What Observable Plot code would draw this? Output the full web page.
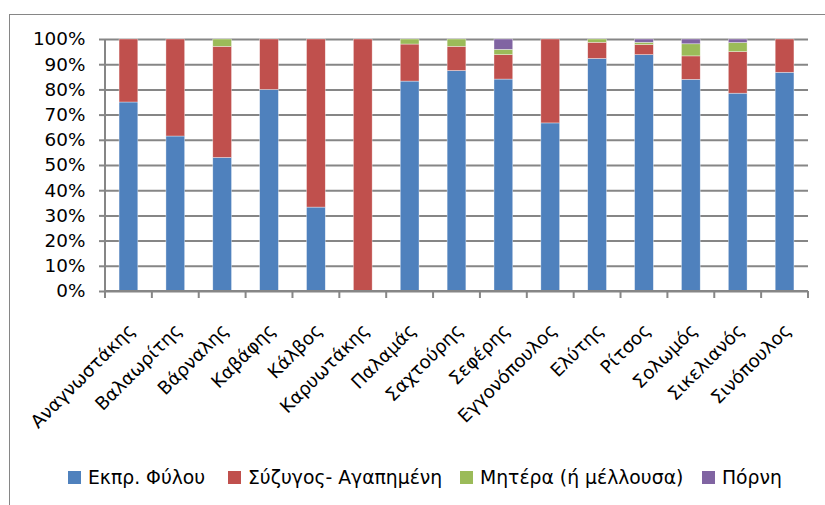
<!DOCTYPE html>
<html><head><meta charset="utf-8">
<script src="https://cdn.jsdelivr.net/npm/d3@7"></script>
<script src="https://cdn.jsdelivr.net/npm/@observablehq/plot@0.6"></script>
<style>
html,body{margin:0;padding:0;background:#fff;}
body{width:825px;height:505px;overflow:hidden;position:relative;font-family:"DejaVu Sans",sans-serif;color:#000;}
#frame{position:absolute;left:9px;top:14px;width:900px;height:600px;border-left:1.5px solid #868686;border-top:1.5px solid #868686;box-sizing:border-box;}
#chart{position:absolute;left:0;top:0;}
#legend{position:absolute;left:0;top:466px;width:825px;height:22px;font-size:18.8px;white-space:nowrap;}
#legend .item{position:absolute;top:0;height:22px;display:flex;align-items:center;}
#legend .sw{width:13px;height:13px;margin-right:7px;}
</style>
</head><body>
<div id="frame"></div>
<div id="chart"></div>
<div id="legend"></div>
<script>
const categories = ["Αναγνωστάκης","Βαλαωρίτης","Βάρναλης","Καβάφης","Κάλβος","Καρυωτάκης","Παλαμάς","Σαχτούρης","Σεφέρης","Εγγονόπουλος","Ελύτης","Ρίτσος","Σολωμός","Σικελιανός","Σινόπουλος"];
const seriesNames = ["Εκπρ. Φύλου","Σύζυγος- Αγαπημένη","Μητέρα (ή μέλλουσα)","Πόρνη"];
const seriesColors = ["#4F81BD","#C0504D","#9BBB59","#8064A2"];
const ekprFylou   = [75,   61.5, 53,   80, 33.3, 0,   83.3, 87.5, 84.1, 66.7, 92.3, 93.8, 84,  78.5, 86.8];
const syzygos     = [25,   38.5, 44.1, 20, 66.7, 100, 14.7, 9.6,  9.7,  33.3, 6.4,  4,    9.3, 16.5, 13.2];
const mitera      = [0,    0,    2.9,  0,  0,    0,   2,    2.9,  2.1,  0,    1.3,  0.9,  4.8, 3.6,  0];
const porni       = [0,    0,    0,    0,  0,    0,   0,    0,    4.1,  0,    0,    1.3,  1.9, 1.4,  0];
const yTicks = [0,10,20,30,40,50,60,70,80,90,100];

const seriesValues = [ekprFylou, syzygos, mitera, porni];
const rows = [];
seriesNames.forEach((s, si) => categories.forEach((c, ci) => rows.push({poet: c, series: s, value: seriesValues[si][ci]})));

const axisColor = "#868686";
const font = "'DejaVu Sans', sans-serif";

// axis lines and category boundary ticks (Excel style)
function axesLines(index, scales, values, dimensions) {
  const {width, marginLeft, marginRight} = dimensions;
  const n = categories.length;
  const step = (width - marginLeft - marginRight) / n;
  const y0 = scales.y(0);
  const g = d3.create("svg:g").attr("stroke", axisColor).attr("stroke-width", 2);
  g.append("line").attr("x1", marginLeft).attr("x2", marginLeft).attr("y1", scales.y(100)).attr("y2", y0);
  g.append("line").attr("x1", marginLeft).attr("x2", width - marginRight).attr("y1", y0).attr("y2", y0);
  for (let i = 0; i <= n; i++) {
    const xx = marginLeft + i * step;
    g.append("line").attr("x1", xx).attr("x2", xx).attr("y1", y0).attr("y2", y0 + 7);
  }
  return g.node();
}

const chart = Plot.plot({
  width: 825,
  height: 455,
  marginLeft: 105,
  marginRight: 17,
  marginTop: 39,
  marginBottom: 164,
  style: {fontFamily: font, fontSize: "18px", color: "#000", background: "transparent", overflow: "visible"},
  x: {domain: categories, paddingInner: 0.6, paddingOuter: 0.3, round: false, label: null, axis: null},
  y: {domain: [0, 100], label: null},
  color: {domain: seriesNames, range: seriesColors},
  marks: [
    Plot.gridY(yTicks, {stroke: axisColor, strokeOpacity: 1, strokeWidth: 2}),
    Plot.barY(rows, {x: "poet", y: "value", fill: "series", stroke: "#fff", strokeWidth: 0.6, strokeOpacity: 0.6}),
    axesLines,
    Plot.axisY({ticks: yTicks, tickFormat: d => d + "%", tickSize: 6, tickPadding: 14, stroke: axisColor, strokeWidth: 2, fontSize: 18.4, label: null}),
    Plot.text(categories, {x: d => d, y: () => 0, text: d => d, rotate: -45, textAnchor: "end", lineAnchor: "bottom", dx: 7, dy: 40, fontSize: 18.2, fill: "#000"})
  ]
});
document.getElementById("chart").appendChild(chart);

// legend item left offsets (layout only)
const legendLeft = [68, 228, 460, 702];
const legend = d3.select("#legend");
seriesNames.forEach((s, i) => {
  const it = legend.append("div").attr("class", "item").style("left", legendLeft[i] + "px");
  it.append("div").attr("class", "sw").style("background", seriesColors[i]);
  it.append("span").text(s);
});
</script>
</body></html>
